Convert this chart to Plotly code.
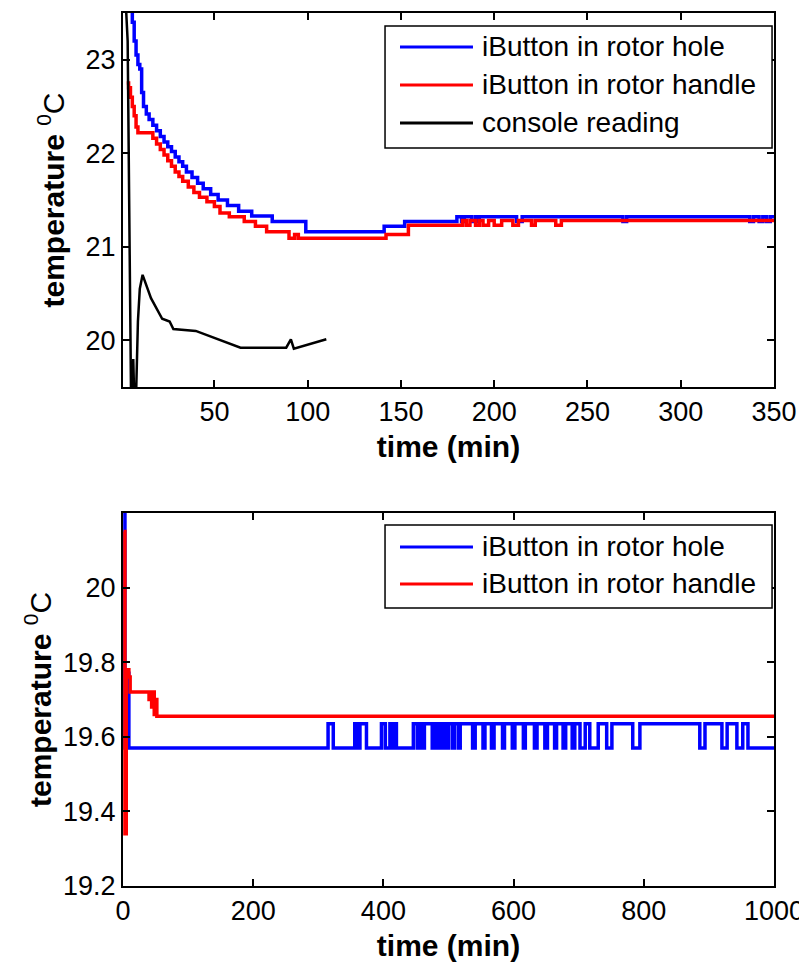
import plotly.graph_objects as go
from plotly.subplots import make_subplots

# ---- top panel (0-350 min) ----
hole_t = [1, 4.5, 6, 7, 8, 9, 10, 11, 12, 13.5, 15, 17, 19, 21, 23, 25, 27, 29, 31, 33,
          35, 38, 41, 44, 48, 52, 57, 63, 70, 81, 99, 141, 152, 180, 182.5, 184, 188, 190, 191, 192,
          212, 215, 269, 271, 337, 339, 342, 344, 346, 348, 350]
hole_T = [23.9, 23.6, 23.4, 23.2, 23.05, 22.95, 22.9, 22.65, 22.5, 22.42, 22.36, 22.3, 22.24, 22.18, 22.12, 22.07, 22.02, 21.96, 21.91, 21.86,
          21.8, 21.74, 21.68, 21.62, 21.56, 21.5, 21.44, 21.38, 21.33, 21.27, 21.16, 21.22, 21.27, 21.32, 21.27, 21.32, 21.27, 21.32, 21.27, 21.32,
          21.27, 21.32, 21.27, 21.32, 21.27, 21.32, 21.27, 21.32, 21.27, 21.32, 21.32]

handle_t = [3, 4, 5, 6, 7, 8, 9, 17, 19, 21, 23, 25, 27, 29, 31, 33,
            36, 39, 42, 46, 50, 53, 58, 66, 72, 78, 90, 93, 95, 142, 154,
            183, 185, 187, 190, 192, 194, 197, 200, 204, 210, 213, 220, 222, 233, 236, 350]
handle_T = [22.75, 22.7, 22.6, 22.5, 22.4, 22.28, 22.22, 22.16, 22.1, 22.04, 21.98, 21.92, 21.86, 21.8, 21.75, 21.7,
            21.64, 21.58, 21.53, 21.48, 21.43, 21.36, 21.32, 21.27, 21.22, 21.16, 21.09, 21.13, 21.09, 21.13, 21.23,
            21.28, 21.23, 21.28, 21.23, 21.28, 21.23, 21.28, 21.23, 21.28, 21.23, 21.28, 21.23, 21.28, 21.23, 21.28, 21.28]

console_t = [1.5, 3.5, 5.5, 6.5, 7.5, 9, 10, 11.5, 16, 22, 26, 28, 40, 64, 88.5, 91, 92.6, 110]
console_T = [24.0, 23.2, 19.0, 19.8, 19.0, 20.2, 20.55, 20.7, 20.45, 20.23, 20.2, 20.12, 20.1, 19.92, 19.92, 20.01, 19.91, 20.01]

# ---- bottom panel (0-1000 min) ----
hole2_t = [0, 3, 7, 9, 1000]
hole2_T = [20.3, 19.57, 19.77, 19.57, 19.57]
hole2_base = 19.57
hole2_high = 19.635
# intervals where the hole sensor flickers up one step
hole2_up_start = [315, 356, 364, 397, 410, 417, 446, 455, 463, 478, 485, 494, 500, 509, 518,
                  541, 556, 570, 586, 602, 618, 636, 652, 666, 680, 694, 710, 730, 751, 794, 894, 928, 952]
hole2_up_end = [323, 360, 374, 403, 413, 420, 452, 460, 475, 482, 490, 498, 506, 515, 537,
                553, 566, 583, 598, 615, 632, 648, 663, 676, 690, 702, 717, 743, 783, 886, 920, 943, 960]

handle2_t = [1, 3, 5, 9, 11, 38, 40, 42, 44, 46, 48, 50, 52, 1000]
handle2_T = [20.15, 19.34, 19.78, 19.76, 19.72, 19.72, 19.70, 19.72, 19.68, 19.72, 19.66, 19.70, 19.655, 19.655]

names = ['iButton in rotor hole', 'iButton in rotor handle', 'console reading']
colors = ['#0000FF', '#FF0000', 'black']

# build the step series for the bottom blue line from the flicker intervals
b2_t = hole2_t[:4]
b2_T = hole2_T[:4]
for s, e in zip(hole2_up_start, hole2_up_end):
    b2_t += [s, e]
    b2_T += [hole2_high, hole2_base]
b2_t.append(hole2_t[-1])
b2_T.append(hole2_T[-1])

FONT = 'Liberation Sans, Arial, sans-serif'
tick_font = dict(family=FONT, size=27, color='black')
title_font = dict(family=FONT, size=30, color='black')
leg_font = dict(family=FONT, size=28, color='black')
ytitle = '<b>temperature </b><sup>0</sup>C'

fig = make_subplots(rows=2, cols=1)
fig.add_trace(go.Scatter(x=hole_t, y=hole_T, mode='lines', line=dict(color=colors[0], width=3.5, shape='hv'),
                         name=names[0]), 1, 1)
fig.add_trace(go.Scatter(x=handle_t, y=handle_T, mode='lines', line=dict(color=colors[1], width=3.5, shape='hv'),
                         name=names[1]), 1, 1)
fig.add_trace(go.Scatter(x=console_t, y=console_T, mode='lines', line=dict(color=colors[2], width=2.5),
                         name=names[2]), 1, 1)
fig.add_trace(go.Scatter(x=b2_t, y=b2_T, mode='lines', line=dict(color=colors[0], width=3.5, shape='hv'),
                         name=names[0]), 2, 1)
fig.add_trace(go.Scatter(x=handle2_t, y=handle2_T, mode='lines', line=dict(color=colors[1], width=3.5, shape='hv'),
                         name=names[1]), 2, 1)

ax = dict(showline=True, linewidth=2, linecolor='black', mirror='ticks', ticks='inside', ticklen=7,
          tickwidth=1.5, tickcolor='black', showgrid=False, zeroline=False, tickfont=tick_font,
          automargin=False)
fig.update_xaxes(**ax)
fig.update_yaxes(**ax)

# MATLAB-style boxed legends drawn inside each panel (long line samples)
def boxed_legend(fig, xr, yr, n, top, bottom, rows):
    fig.add_shape(type='rect', xref=xr, yref=yr, x0=0.4025, x1=0.997, y0=bottom, y1=top,
                  line=dict(color='black', width=1.5), fillcolor='white', layer='above')
    for i in range(n):
        fig.add_shape(type='line', xref=xr, yref=yr, x0=0.4255, x1=0.5376, y0=rows[i], y1=rows[i],
                      line=dict(color=colors[i], width=3), layer='above')
        fig.add_annotation(xref=xr, yref=yr, x=0.5484, y=rows[i], text=names[i], showarrow=False,
                           xanchor='left', yanchor='middle', font=leg_font)

boxed_legend(fig, 'x domain', 'y domain', 3, 0.9652, 0.639, [0.9091, 0.8075, 0.7059])
boxed_legend(fig, 'x2 domain', 'y2 domain', 2, 0.9678, 0.7453, [0.9088, 0.8097])

# the page body adds an 8px offset, so the figure is 8px smaller than the window
fig.update_layout(
    width=799, height=957,
    margin=dict(l=115, r=33, t=5, b=79),
    plot_bgcolor='white', paper_bgcolor='white',
    showlegend=False,
    xaxis=dict(domain=[0, 1], range=[1, 350], tickvals=[50, 100, 150, 200, 250, 300, 350],
               title=dict(text='<b>time (min)</b>', font=title_font, standoff=10)),
    yaxis=dict(domain=[0.5716, 1], range=[19.5, 23.5], tickvals=[20, 21, 22, 23],
               title=dict(text=ytitle, font=title_font, standoff=12)),
    xaxis2=dict(domain=[0, 1], range=[0, 1000], tickvals=[0, 200, 400, 600, 800, 1000],
                title=dict(text='<b>time (min)</b>', font=title_font, standoff=10)),
    yaxis2=dict(domain=[0, 0.4273], range=[19.2, 20.2], tickvals=[19.2, 19.4, 19.6, 19.8, 20.0],
                ticktext=['19.2', '19.4', '19.6', '19.8', '20'],
                title=dict(text=ytitle, font=title_font, standoff=3)),
)

fig.write_html("out.html")
